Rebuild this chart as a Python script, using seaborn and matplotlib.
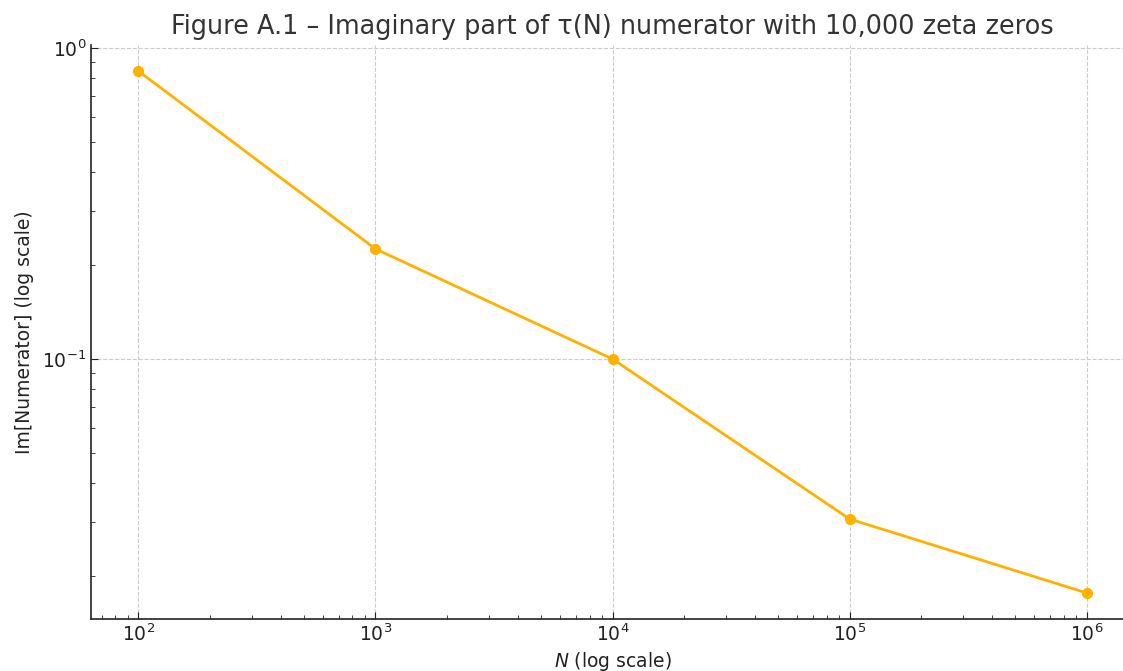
import numpy as np
import pandas as pd
import matplotlib
matplotlib.use("Agg")
import matplotlib.pyplot as plt
import seaborn as sns

# --- data ---
N_values = [1e2, 1e3, 1e4, 1e5, 1e6]
im_numerator = [0.843, 0.226, 0.100, 0.0306, 0.0177]

df = pd.DataFrame({"N": N_values, "im": im_numerator})

sns.set_style("ticks")
plt.rcParams["font.family"] = ["DejaVu Sans"]

fig = plt.figure(figsize=(11.23, 6.71), dpi=100)
ax = fig.add_axes([91 / 1123, 1 - 619 / 671, (1134 - 91) / 1123, (619 - 45) / 671])

sns.lineplot(data=df, x="N", y="im", ax=ax, color="#FFB000", marker="o",
             markersize=8, markeredgewidth=0, linewidth=2)

ax.set_xscale("log")
ax.set_yscale("log")
ax.margins(0.05)

ax.grid(True, which="major", linestyle="--", color="#cccccc", linewidth=0.8)
ax.grid(False, which="minor")

for s in ["top", "right"]:
    ax.spines[s].set_visible(False)
for s in ["left", "bottom"]:
    ax.spines[s].set_color("#222222")
    ax.spines[s].set_linewidth(1.2)

ax.tick_params(which="both", direction="in", colors="#222222", labelsize=13.5)
ax.tick_params(which="major", length=5)
ax.tick_params(which="minor", length=3)

ax.set_title("Figure A.1 – Imaginary part of τ(N) numerator with 10,000 zeta zeros",
             fontsize=18.4, color="#333333", pad=8)
ax.set_xlabel("$N$ (log scale)", fontsize=13.5, color="#222222", labelpad=3)
ax.set_ylabel("Im[Numerator] (log scale)", fontsize=13.5, color="#222222", labelpad=6)

fig.savefig("out.png", dpi=100)
